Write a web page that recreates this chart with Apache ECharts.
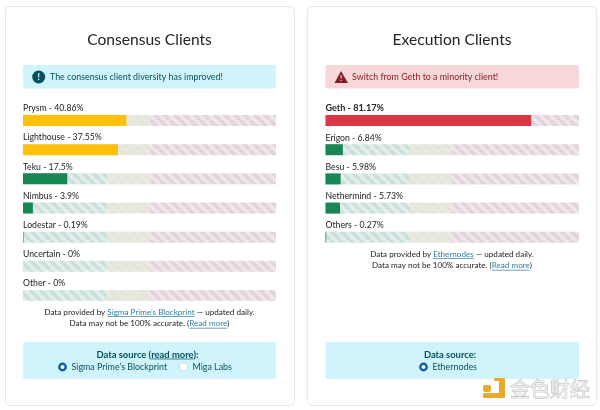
<!DOCTYPE html>
<html><head><meta charset="utf-8">
<style>html,body{margin:0;padding:0;background:#fff}#c{width:600px;height:410px}</style>
<script src="https://cdn.jsdelivr.net/npm/echarts@6/dist/echarts.min.js"></script>
</head><body><div id="c"></div>
<script>
const consensusNames = ['Prysm','Lighthouse','Teku','Nimbus','Lodestar','Uncertain','Other'];
const consensusValues = [40.86,37.55,17.5,3.9,0.19,0,0];
const executionNames = ['Geth','Erigon','Besu','Nethermind','Others'];
const executionValues = [81.17,6.84,5.98,5.73,0.27];
const zoneGreen = 33.33, zoneYellow = 16.67, zoneRed = 50;
const FONT = 'Lato';
const BODY = '8.9px Lato';
const SMALL = '8.1px Lato';
const C = {fill:{g:'#198754',y:'#ffc107',r:'#dc3545'}};

function stripes(base, stripe){
  const p = 10, cv = document.createElement('canvas');
  cv.width = p; cv.height = p;
  const x = cv.getContext('2d');
  x.fillStyle = base; x.fillRect(0,0,p,p);
  x.strokeStyle = stripe; x.lineWidth = 3.6;
  for (let i=-p;i<=2*p;i+=p){ x.beginPath(); x.moveTo(i,0); x.lineTo(i+p,p); x.stroke(); }
  return {image: cv, repeat: 'repeat'};
}
const pG = stripes('#e3eeeb','#c9e0dc'), pY = stripes('#e9e9e0','#e5e5da'), pR = stripes('#efe6ea','#e2d3dc');

function fillColor(v){ return v>=50 ? C.fill.r : v>=33.33 ? C.fill.y : C.fill.g; }

const grids = [
  {left:23,width:253,top:105.9,height:204.2},
  {left:325.5,width:253.5,top:105.9,height:146}
];
const xAxes = grids.map((g,i)=>({gridIndex:i,type:'value',min:0,max:100,show:false}));
const yAxes = [consensusNames,executionNames].map((n,i)=>({gridIndex:i,type:'category',data:n,inverse:true,show:false}));
const series = [];
[[consensusNames,consensusValues],[executionNames,executionValues]].forEach(([names,vals],i)=>{
  const base = {type:'bar',xAxisIndex:i,yAxisIndex:i,barWidth:11,silent:true,animation:false};
  series.push({...base,stack:'z'+i,data:names.map(()=>zoneGreen),itemStyle:{color:pG},
    label:{show:true,position:[0,-11],color:'#212529',fontFamily:FONT,fontSize:8.7,
      formatter:p=>{const t=p.name+' - '+vals[p.dataIndex]+'%';return vals[p.dataIndex]>=50?'{b|'+t+'}':t;},
      rich:{b:{fontWeight:'bold',fontFamily:FONT,fontSize:9.1,color:'#212529'}}}});
  series.push({...base,stack:'z'+i,data:names.map(()=>zoneYellow),itemStyle:{color:pY}});
  series.push({...base,stack:'z'+i,data:names.map(()=>zoneRed),itemStyle:{color:pR}});
  series.push({...base,barGap:'-100%',z:5,data:vals.map(v=>({value:v,itemStyle:{color:fillColor(v)}}))});
});

const txt = (x,y,text,o={})=>({type:'text',x,y,z:10,silent:true,style:Object.assign({text,fill:'#212529',font:BODY,textAlign:'center',textVerticalAlign:'middle'},o)});
const rect = (x,y,w,h,fill,r,stroke)=>({type:'rect',z:-1,silent:true,shape:{x,y,width:w,height:h,r:r||0},style:{fill,stroke:stroke||null,lineWidth:stroke?1:0}});
const radio = (x,y,on)=>on
  ? {type:'circle',z:10,silent:true,shape:{cx:x,cy:y,r:3.2},style:{fill:'#fff',stroke:'#0d5fa8',lineWidth:2.4}}
  : {type:'circle',z:10,silent:true,shape:{cx:x,cy:y,r:4.2},style:{fill:'#fff',stroke:'#c4d2d6',lineWidth:0.8}};
const LINK='#2f7d9e', INFO='#055160', DANGER='#842029';

const ctx = document.createElement('canvas').getContext('2d');
function segs(cx,y,parts,font,color){
  ctx.font = font;
  const total = parts.reduce((a,p)=>a+ctx.measureText(p[0]).width,0);
  let x = cx-total/2; const out=[];
  parts.forEach(p=>{
    const w=ctx.measureText(p[0]).width;
    out.push(txt(x,y,p[0],{font,fill:p[1]||color,textAlign:'left'}));
    if(p[2]) out.push({type:'line',z:10,silent:true,shape:{x1:x,y1:y+4.5,x2:x+w,y2:y+4.5},style:{stroke:p[1]||color,lineWidth:0.7}});
    x+=w;
  });
  return out;
}

const graphic = [
  rect(5.5,6.5,289,399,'#fff',4,'#e8e8e8'),
  rect(307.5,6.5,289,399,'#fff',4,'#e8e8e8'),
  txt(149.5,39.5,'Consensus Clients',{font:'15.6px Lato'}),
  txt(452,39.5,'Execution Clients',{font:'15.6px Lato'}),
  rect(23,65,253,23.5,'#cff4fc',2),
  rect(325.5,65,253.5,23.5,'#f8d7da',2),
  {type:'circle',z:10,silent:true,shape:{cx:38.7,cy:77,r:6.5},style:{fill:INFO}},
  txt(38.7,77,'!',{fill:'#cff4fc',font:'bold 10px Lato'}),
  txt(50,77.5,'The consensus client diversity has improved!',{fill:INFO,textAlign:'left'}),
  {type:'polygon',z:10,silent:true,shape:{points:[[341,71],[348,83],[334.5,83]]},style:{fill:DANGER}},
  txt(341,78,'!',{fill:'#f8d7da',font:'bold 8px Lato'}),
  txt(352,77.5,'Switch from Geth to a minority client!',{fill:DANGER,textAlign:'left'}),
  ...segs(149.5,312,[['Data provided by '],['Sigma Prime\u2019s Blockprint',LINK,true],[' \u2014 updated daily.']],SMALL,'#212529'),
  ...segs(149.5,323.7,[['Data may not be 100% accurate. ('],['Read more',LINK,true],[')']],SMALL,'#212529'),
  ...segs(452,254,[['Data provided by '],['Ethernodes',LINK,true],[' \u2014 updated daily.']],SMALL,'#212529'),
  ...segs(452,265.7,[['Data may not be 100% accurate. ('],['Read more',LINK,true],[')']],SMALL,'#212529'),
  rect(23,342,253,37,'#cff4fc',2),
  rect(325.5,342,253.5,37,'#cff4fc',2),
  ...segs(147.5,354.5,[['Data source ('],['read more',INFO,true],['):']],'bold 9.4px Lato',INFO),
  txt(450,354.5,'Data source:',{fill:INFO,font:'bold 9.4px Lato'}),
  radio(62.5,367,true),
  txt(71.5,367.5,'Sigma Prime\u2019s Blockprint',{fill:INFO,textAlign:'left'}),
  radio(183.5,367,false),
  txt(192.5,367.5,'Miga Labs',{fill:INFO,textAlign:'left'}),
  radio(423.5,367,true),
  txt(432.5,367.5,'Ethernodes',{fill:INFO,textAlign:'left'}),
  {type:'rect',z:20,silent:true,shape:{x:483,y:393,width:22,height:5,r:1},style:{fill:'#e8a92f'}},
  {type:'rect',z:20,silent:true,shape:{x:499,y:378,width:6,height:18,r:1},style:{fill:'#e8a92f'}},
  {type:'rect',z:20,silent:true,shape:{x:494,y:378,width:8,height:3,r:1},style:{fill:'#e8a92f'}},
  {type:'rect',z:20,silent:true,shape:{x:483,y:385,width:8,height:7,r:2},style:{fill:'#e8a92f'}},
  txt(550,389,'\u91d1\u8272\u8d22\u7ecf',{z:20,fill:'#ececec',stroke:'#a8a8a8',lineWidth:0.7,font:'20px "Noto Sans CJK SC"'})
];

const chart = echarts.init(document.getElementById('c'),null,{renderer:'canvas'});
chart.setOption({animation:false,grid:grids,xAxis:xAxes,yAxis:yAxes,series,graphic:{elements:graphic}});
</script></body></html>
